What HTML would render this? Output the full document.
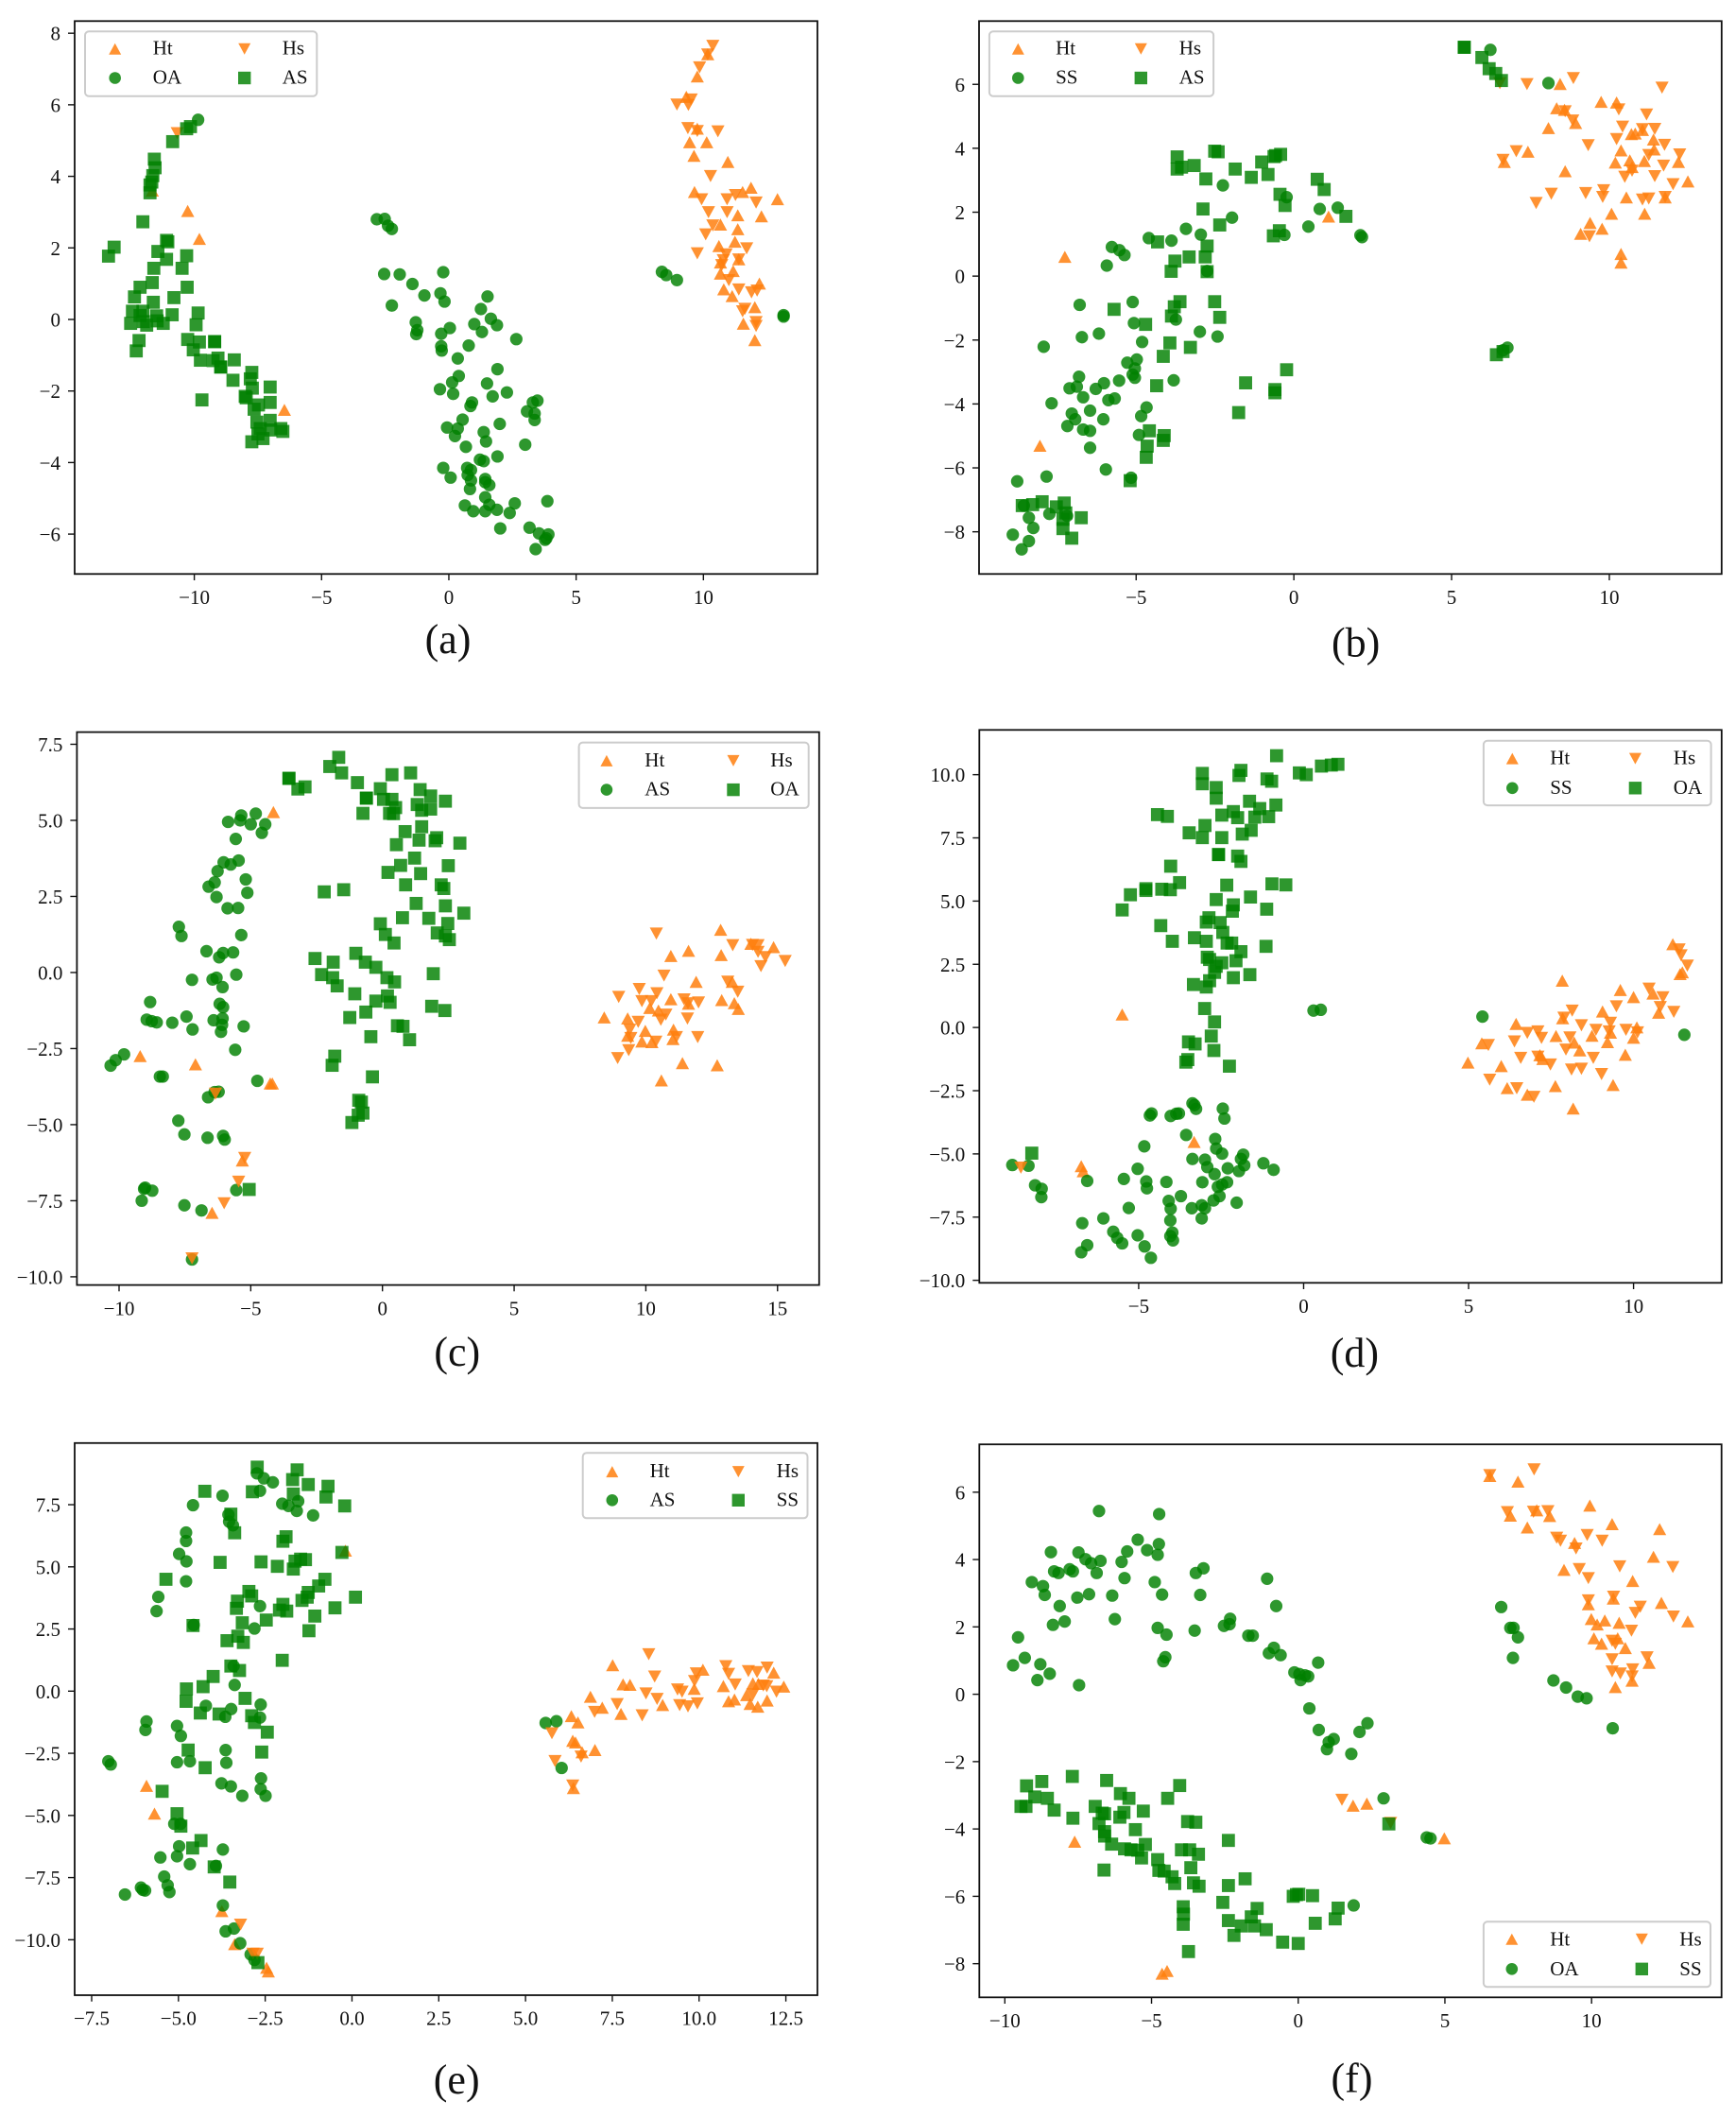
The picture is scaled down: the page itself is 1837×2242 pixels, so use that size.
<!DOCTYPE html>
<html lang="en">
<head>
<meta charset="utf-8">
<title>t-SNE scatter panels</title>
<style>
html,body{margin:0;padding:0;background:#fff;}
svg{display:block;font-family:"Liberation Serif",serif;}
.lg{font-size:21px;fill:#111;}
.cap{font-size:44px;fill:#111;text-anchor:middle;}
.frame{fill:#fff;fill-opacity:.8;stroke:#ccc;stroke-width:2;}
.o{fill:#ff7f0e;fill-opacity:.85;}
.g{fill:#008000;fill-opacity:.82;}
</style>
</head>
<body>
<svg id="fig" xmlns="http://www.w3.org/2000/svg" width="1837" height="2242" viewBox="0 0 1837 2242">
<g id="plots"></g>

<g>
<rect class="frame" x="90" y="33.3" width="245.3" height="68.4" rx="4"/>
<path class="o" transform="translate(121.7,51.7)" d="M-6.5,6L6.5,6L0,-6Z"/>
<text class="lg" x="161.7" y="57.5">Ht</text>
<path class="o" transform="translate(258.7,51.7)" d="M-6.5,-6L6.5,-6L0,6Z"/>
<text class="lg" x="298.7" y="57.5">Hs</text>
<circle class="g" cx="121.7" cy="82.5" r="6.3"/>
<text class="lg" x="161.7" y="88.5">OA</text>
<rect class="g" x="252" y="75.8" width="13.4" height="13.4"/>
<text class="lg" x="298.7" y="88.5">AS</text>
</g>
<text class="cap" x="474" y="691">(a)</text>

<g>
<rect class="frame" x="1046.9" y="33.3" width="237.2" height="68.4" rx="4"/>
<path class="o" transform="translate(1077.3,51.7)" d="M-6.5,6L6.5,6L0,-6Z"/>
<text class="lg" x="1117.1" y="57.5">Ht</text>
<path class="o" transform="translate(1207.3,51.7)" d="M-6.5,-6L6.5,-6L0,6Z"/>
<text class="lg" x="1247.7" y="57.5">Hs</text>
<circle class="g" cx="1077.3" cy="82.5" r="6.3"/>
<text class="lg" x="1117.1" y="88.5">SS</text>
<rect class="g" x="1200.6" y="75.8" width="13.4" height="13.4"/>
<text class="lg" x="1247.7" y="88.5">AS</text>
</g>
<text class="cap" x="1434.6" y="694.6">(b)</text>

<g>
<rect class="frame" x="612.6" y="785.6" width="243.1" height="69.3" rx="4"/>
<path class="o" transform="translate(641.9,804.9)" d="M-6.5,6L6.5,6L0,-6Z"/>
<text class="lg" x="682.3" y="810.9">Ht</text>
<path class="o" transform="translate(776,804.9)" d="M-6.5,-6L6.5,-6L0,6Z"/>
<text class="lg" x="815.3" y="810.9">Hs</text>
<circle class="g" cx="641.9" cy="835.6" r="6.3"/>
<text class="lg" x="682.3" y="841.6">AS</text>
<rect class="g" x="769.3" y="828.9" width="13.4" height="13.4"/>
<text class="lg" x="815.3" y="841.6">OA</text>
</g>
<text class="cap" x="483.8" y="1445">(c)</text>

<g>
<rect class="frame" x="1569.9" y="783.8" width="240.7" height="68.3" rx="4"/>
<path class="o" transform="translate(1600.3,802.6)" d="M-6.5,6L6.5,6L0,-6Z"/>
<text class="lg" x="1640.2" y="808.6">Ht</text>
<path class="o" transform="translate(1730.4,802.6)" d="M-6.5,-6L6.5,-6L0,6Z"/>
<text class="lg" x="1770.8" y="808.6">Hs</text>
<circle class="g" cx="1600.3" cy="833.8" r="6.3"/>
<text class="lg" x="1640.2" y="839.8">SS</text>
<rect class="g" x="1723.7" y="827.1" width="13.4" height="13.4"/>
<text class="lg" x="1770.8" y="839.8">OA</text>
</g>
<text class="cap" x="1433.4" y="1446">(d)</text>

<g>
<rect class="frame" x="616.7" y="1537.2" width="237.8" height="69.1" rx="4"/>
<path class="o" transform="translate(647.8,1557.1)" d="M-6.5,6L6.5,6L0,-6Z"/>
<text class="lg" x="687.6" y="1563">Ht</text>
<path class="o" transform="translate(781.3,1557.1)" d="M-6.5,-6L6.5,-6L0,6Z"/>
<text class="lg" x="821.7" y="1563">Hs</text>
<circle class="g" cx="647.8" cy="1587.3" r="6.3"/>
<text class="lg" x="687.6" y="1593.3">AS</text>
<rect class="g" x="774.6" y="1580.6" width="13.4" height="13.4"/>
<text class="lg" x="821.7" y="1593.3">SS</text>
</g>
<text class="cap" x="483.2" y="2215">(e)</text>

<g>
<rect class="frame" x="1569.9" y="2033.3" width="240.1" height="69" rx="4"/>
<path class="o" transform="translate(1599.8,2051.7)" d="M-6.5,6L6.5,6L0,-6Z"/>
<text class="lg" x="1640.2" y="2058.3">Ht</text>
<path class="o" transform="translate(1737.3,2051.7)" d="M-6.5,-6L6.5,-6L0,6Z"/>
<text class="lg" x="1777.3" y="2058.3">Hs</text>
<circle class="g" cx="1599.8" cy="2083.3" r="6.3"/>
<text class="lg" x="1640.2" y="2090">OA</text>
<rect class="g" x="1730.6" y="2076.6" width="13.4" height="13.4"/>
<text class="lg" x="1777.3" y="2090">SS</text>
</g>
<text class="cap" x="1430.5" y="2213.5">(f)</text>
</svg>

<script>
// ---------- panel (a) ----------
const aXTicks = [-10,-5,0,5,10];
const aYTicks = [-6,-4,-2,0,2,4,6,8];
const aHt = [[10.17,7.41],[9.76,6.79],[9.33,6.22],[9.76,5.33],[9.46,4.95],[10.13,4.95],[9.63,4.57],[10.96,4.4],[9.65,3.56],[11.87,3.68],[11.54,3.56],[12.91,3.36],[11.35,2.91],[12.28,2.88],[10.67,2.65],[11.35,2.52],[11.24,2.17],[10.61,2.05],[11.39,1.68],[10.67,1.59],[11.17,1.35],[10.67,1.28],[12.2,1.0],[10.8,0.84],[11.13,0.65],[12.02,0.34],[11.57,-0.12],[12.02,-0.58],[-6.46,-2.53],[-10.26,3.03],[-9.8,2.25],[-11.65,3.6]];
const aOA = [[-2.83,2.8],[-2.52,2.81],[-2.39,2.62],[-2.24,2.53],[-2.54,1.27],[-1.93,1.26],[-0.22,1.32],[-1.43,0.99],[-0.96,0.67],[-0.33,0.73],[-0.17,0.5],[-2.24,0.39],[1.52,0.64],[1.26,0.29],[1.65,0.02],[1.0,-0.13],[1.89,-0.16],[1.3,-0.35],[-1.3,-0.08],[-1.24,-0.3],[-1.28,-0.41],[0.04,-0.24],[-0.3,-0.4],[2.65,-0.55],[0.78,-0.73],[-0.3,-0.75],[-0.28,-0.87],[0.35,-1.09],[1.91,-1.39],[0.39,-1.58],[0.13,-1.76],[1.5,-1.79],[-0.35,-1.95],[0.17,-2.08],[1.72,-2.15],[2.28,-2.04],[0.91,-2.32],[0.85,-2.42],[3.48,-2.27],[3.3,-2.32],[3.07,-2.57],[3.37,-2.63],[3.37,-2.81],[2.0,-2.92],[0.54,-2.8],[-0.07,-3.02],[0.35,-3.05],[0.24,-3.26],[1.37,-3.15],[1.46,-3.41],[3.0,-3.5],[0.67,-3.56],[1.22,-3.92],[1.37,-3.96],[1.91,-3.83],[-0.22,-4.15],[0.07,-4.42],[0.72,-4.15],[0.87,-4.21],[0.74,-4.35],[0.87,-4.5],[1.43,-4.46],[1.43,-4.55],[1.59,-4.63],[0.83,-4.74],[1.43,-4.97],[1.59,-5.18],[2.59,-5.14],[3.87,-5.08],[0.63,-5.2],[0.96,-5.36],[1.43,-5.36],[1.89,-5.32],[2.39,-5.41],[2.02,-5.84],[3.17,-5.82],[3.54,-5.98],[3.91,-6.01],[3.83,-6.12],[3.78,-6.16],[3.41,-6.42],[8.37,1.33],[8.54,1.24],[8.96,1.1],[13.15,0.08],[13.15,0.12],[-9.85,5.58]];
const aHs = [[10.37,7.65],[10.17,7.41],[9.85,7.05],[8.96,6.01],[9.41,6.0],[9.52,6.15],[9.39,5.35],[10.57,5.26],[9.76,5.27],[10.28,4.01],[9.93,3.36],[10.93,3.36],[11.26,3.48],[12.07,3.27],[10.2,3.0],[10.93,3.0],[10.37,2.63],[10.09,2.38],[11.7,1.99],[9.76,1.85],[10.89,1.82],[10.78,1.66],[11.39,1.68],[10.72,1.52],[11.0,1.1],[11.39,0.84],[11.89,0.76],[12.11,0.81],[11.63,0.3],[11.54,0.23],[12.07,-0.07],[12.07,-0.18],[-10.67,5.21]];
const aAS = [[-13.37,1.77],[-13.15,2.02],[-12.02,2.73],[-11.09,2.21],[-11.04,2.17],[-11.43,1.9],[-11.09,1.68],[-10.3,1.78],[-11.59,1.43],[-10.48,1.43],[-11.65,1.03],[-12.13,0.9],[-10.28,0.9],[-12.35,0.63],[-10.8,0.61],[-11.61,0.48],[-12.43,0.23],[-12.02,0.23],[-12.13,0.11],[-11.48,0.1],[-10.87,0.13],[-9.85,0.18],[-12.5,-0.11],[-11.87,-0.16],[-12.0,-0.06],[-11.46,-0.04],[-11.22,-0.11],[-9.93,-0.15],[-12.17,-0.59],[-12.28,-0.88],[-10.26,-0.56],[-9.8,-0.63],[-9.2,-0.62],[-9.2,-0.62],[-10.04,-0.85],[-9.76,-1.14],[-9.26,-1.15],[-9.07,-1.08],[-8.96,-1.33],[-8.96,-1.33],[-8.43,-1.13],[-8.48,-1.7],[-7.74,-1.48],[-7.8,-1.66],[-7.72,-1.92],[-7.02,-1.89],[-8.0,-2.15],[-7.96,-2.19],[-9.7,-2.25],[-7.48,-2.39],[-7.02,-2.32],[-7.65,-2.51],[-7.54,-2.87],[-7.02,-2.82],[-7.41,-3.05],[-6.6,-3.05],[-6.52,-3.13],[-7,-3.09],[-7.5,-3.2],[-7.3,-3.33],[-7.74,-3.42],[-10.85,4.97],[-10.3,5.33],[-10.15,5.39],[-11.57,4.48],[-11.54,4.24],[-11.63,4.02],[-11.67,3.84],[-11.74,3.76],[-11.74,3.54]];

// ---------- panel (b) ----------
const bXTicks = [-5,0,5,10];
const bYTicks = [-8,-6,-4,-2,0,2,4,6];
const bHt = [[-7.26,0.6],[1.1,1.86],[-8.05,-5.31],[8.44,6.01],[8.33,5.25],[8.58,5.2],[9.74,5.45],[10.23,5.43],[8.07,4.63],[8.93,4.79],[10.7,4.44],[10.82,4.46],[11.05,4.57],[11.4,4.27],[10.37,3.93],[11.42,3.96],[7.42,3.89],[6.67,3.57],[10.19,3.55],[10.65,3.62],[11.11,3.6],[12.19,3.57],[8.6,3.28],[10.72,3.41],[12.49,2.96],[10.54,2.46],[11.77,2.46],[10.07,1.95],[11.12,1.95],[9.39,1.66],[9.77,1.48],[9.09,1.32],[10.37,0.69],[10.37,0.42]];
const bSS = [[6.23,7.08],[8.07,6.04],[-2.25,2.84],[-0.23,2.47],[-1.96,1.83],[0.82,2.1],[1.39,2.14],[0.46,1.55],[-0.3,1.29],[2.11,1.28],[2.16,1.22],[-3.42,1.48],[-2.95,1.3],[-4.6,1.19],[-3.88,1.11],[-5.77,0.91],[-5.53,0.81],[-5.37,0.66],[-5.93,0.33],[-2.75,0.16],[-6.79,-0.9],[-5.11,-0.81],[-5.07,-1.47],[-3.74,-1.36],[-2.98,-1.74],[-2.42,-1.89],[-6.18,-1.8],[-6.72,-1.91],[-7.93,-2.21],[-4.81,-2.06],[-4.98,-2.61],[-5.28,-2.71],[-5.04,-2.89],[-5.11,-3.08],[-5.04,-3.18],[-6.81,-3.15],[-5.54,-3.27],[-3.81,-3.26],[-6.02,-3.35],[-6.28,-3.53],[-6.88,-3.46],[-7.11,-3.51],[-6.68,-3.79],[-5.68,-3.83],[-5.88,-3.88],[-7.68,-3.98],[-4.67,-4.11],[-6.46,-4.21],[-4.84,-4.38],[-7.04,-4.3],[-6.04,-4.48],[-6.93,-4.48],[-7.18,-4.69],[-6.68,-4.8],[-6.46,-4.84],[-4.91,-4.97],[-6.46,-5.37],[-5.96,-6.05],[-5.16,-6.31],[-7.84,-6.27],[-8.77,-6.42],[-8.56,-7.18],[-7.75,-7.44],[-8.4,-7.56],[-7.19,-7.5],[-8.26,-7.88],[-8.91,-8.09],[-8.4,-8.29],[-8.63,-8.55],[6.77,-2.24],[6.63,-2.32]];
const bHs = [[6.63,3.64],[7.05,3.91],[7.39,6.01],[8.86,6.2],[11.67,5.9],[10.3,5.22],[8.6,5.16],[8.84,4.87],[11.18,5.06],[10.42,4.68],[10.23,4.29],[11.05,4.6],[11.44,4.61],[9.33,4.1],[11.75,4.11],[11.25,3.79],[12.23,3.81],[11.72,3.46],[10.72,3.3],[10.49,3.11],[11.44,3.13],[12.02,2.88],[8.16,2.58],[9.25,2.6],[9.82,2.69],[9.79,2.48],[7.68,2.29],[11.05,2.4],[11.25,2.43],[11.77,2.48],[9.37,1.25],[6.53,6.04]];
const bAS = [[5.4,7.16],[5.4,7.16],[5.96,6.84],[6.19,6.49],[6.4,6.34],[6.58,6.12],[-3.7,3.73],[-3.7,3.35],[-3.56,3.41],[-3.16,3.46],[-2.51,3.91],[-2.4,3.89],[-2.79,3.04],[-1.86,3.35],[-1.35,3.09],[-1.02,3.57],[-0.82,3.18],[-0.63,3.74],[-0.58,3.77],[-0.42,3.81],[-0.44,2.56],[-0.28,2.21],[0.74,3.03],[0.96,2.71],[1.65,1.87],[-2.88,2.1],[-2.35,1.6],[-0.46,1.42],[-0.65,1.26],[-4.32,1.07],[-2.75,0.94],[-2.81,0.6],[-3.32,0.6],[-3.77,0.47],[-3.89,0.15],[-2.75,0.14],[-3.61,-0.8],[-2.51,-0.8],[-3.79,-0.96],[-5.7,-1.04],[-2.35,-1.29],[-3.88,-1.25],[-4.7,-1.51],[-3.93,-2.09],[-3.28,-2.23],[-4.14,-2.51],[-4.35,-3.43],[-1.53,-3.34],[-0.23,-2.93],[-0.6,-3.55],[-0.6,-3.65],[-1.75,-4.27],[-4.58,-4.84],[-4.11,-4.99],[-4.14,-5.14],[-4.65,-5.32],[-4.68,-5.67],[-5.19,-6.4],[6.42,-2.46],[6.63,-2.36],[-8.61,-7.18],[-8.28,-7.15],[-7.98,-7.06],[-7.53,-7.22],[-7.28,-7.1],[-7.23,-7.41],[-7.32,-7.61],[-7.32,-7.9],[-7.04,-8.2],[-6.74,-7.56]];

// ---------- panel (c) ----------
const cXTicks = [-10,-5,0,5,10,15];
const cYTicks = [-10,-7.5,-5,-2.5,0,2.5,5,7.5];
const cHt = [[-4.14,5.27],[-9.2,-2.75],[-7.1,-3.02],[-4.26,-3.65],[-4.18,-3.65],[-5.32,-6.18],[-6.47,-7.9],[8.42,-1.48],[9.31,-1.51],[9.31,-2.08],[9.98,-1.92],[9.85,-2.27],[10.23,-2.29],[11.05,-1.88],[11.03,-2.19],[11.39,-2.98],[12.71,-3.05],[10.59,-3.55],[10.95,0.54],[11.62,0.71],[12.84,1.4],[12.86,0.57],[11.91,-0.31],[13.28,-0.31],[10.95,-0.88],[12.88,-0.91],[13.36,-1.01],[13.51,-1.2],[10.15,-1.17],[10.48,-1.25],[11.62,-1.03],[13.99,0.94],[14.85,0.83]];
const cAS = [[-4.81,5.22],[-5.36,5.16],[-5.4,5.0],[-5.86,4.95],[-5.0,4.87],[-4.45,4.87],[-4.58,4.59],[-5.57,4.39],[-5.46,3.68],[-6.03,3.62],[-5.76,3.55],[-6.26,3.33],[-5.19,3.06],[-6.37,2.96],[-6.6,2.82],[-5.13,2.62],[-6.3,2.48],[-5.88,2.11],[-5.48,2.12],[-7.73,1.5],[-7.63,1.2],[-5.36,1.23],[-6.68,0.7],[-5.67,0.66],[-6.05,0.64],[-6.2,0.5],[-5.55,-0.07],[-7.23,-0.24],[-6.3,-0.17],[-6.45,-0.23],[-6.07,-0.48],[-8.82,-0.97],[-6.18,-1.03],[-6.05,-1.14],[-7.44,-1.45],[-8.95,-1.55],[-8.76,-1.6],[-8.57,-1.64],[-7.98,-1.65],[-6.41,-1.57],[-6.07,-1.51],[-6.09,-1.72],[-5.27,-1.77],[-7.21,-1.87],[-6.13,-1.95],[-5.59,-2.54],[-9.81,-2.69],[-10.13,-2.88],[-10.32,-3.06],[-8.45,-3.42],[-8.34,-3.42],[-4.75,-3.56],[-6.37,-3.93],[-6.22,-3.92],[-6.62,-4.1],[-7.75,-4.87],[-7.52,-5.32],[-6.64,-5.43],[-6.05,-5.37],[-5.99,-5.49],[-9.01,-7.07],[-9.05,-7.11],[-8.74,-7.17],[-9.14,-7.5],[-7.52,-7.65],[-6.87,-7.82],[-5.55,-7.15],[-7.23,-9.43]];
const cHs = [[10.4,1.28],[13.3,0.9],[14.26,0.9],[14.05,0.91],[14.26,0.68],[14.54,0.51],[14.37,0.21],[15.29,0.38],[10.69,-0.1],[13.11,-0.3],[13.49,-0.63],[9.75,-0.54],[10.42,-0.68],[8.97,-0.8],[9.85,-0.94],[10.21,-0.94],[11.45,-0.88],[11.6,-1.01],[12.0,-0.98],[10.76,-1.38],[10.57,-1.55],[11.58,-1.51],[9.71,-1.62],[9.39,-1.88],[9.43,-2.15],[10.38,-2.27],[11.16,-2.12],[11.97,-2.12],[9.35,-2.55],[8.93,-2.81],[-6.34,-3.98],[-5.23,-6.09],[-5.46,-6.87],[-6.01,-7.58],[-7.23,-9.39]];
const cOA = [[-1.66,7.07],[-2.0,6.77],[-1.55,6.56],[-0.95,6.24],[-3.55,6.38],[-3.55,6.38],[-3.21,6.03],[-2.94,6.1],[0.36,6.5],[1.07,6.56],[-0.08,6.04],[1.43,6.01],[-0.61,5.73],[-0.61,5.73],[0.04,5.69],[0.36,5.69],[1.83,5.8],[2.39,5.63],[0.5,5.42],[-0.74,5.23],[0.27,5.23],[0.42,5.22],[1.32,5.52],[1.49,5.33],[1.83,5.37],[1.49,4.79],[0.86,4.63],[2.06,4.43],[2.0,4.33],[1.39,4.35],[0.53,4.2],[2.94,4.25],[1.22,3.76],[0.69,3.52],[2.5,3.51],[0.21,3.29],[1.45,3.25],[0.88,2.88],[2.23,2.88],[2.33,2.76],[-2.21,2.65],[-1.47,2.72],[1.28,2.27],[2.39,2.19],[3.09,1.95],[0.76,1.8],[1.76,1.78],[-0.08,1.6],[2.48,1.61],[0.11,1.25],[2.08,1.3],[2.39,1.2],[2.54,1.08],[0.44,0.97],[-1.01,0.63],[-2.56,0.46],[-1.87,0.34],[-0.65,0.34],[-0.25,0.17],[-2.31,-0.07],[-1.89,-0.17],[0.17,-0.17],[1.93,-0.04],[0.46,-0.31],[-1.72,-0.44],[-1.05,-0.7],[0.19,-0.77],[-0.25,-0.94],[0.29,-0.98],[1.87,-1.11],[2.37,-1.25],[-0.63,-1.3],[-1.24,-1.48],[0.57,-1.75],[0.78,-1.77],[-0.44,-2.11],[1.03,-2.21],[-1.81,-2.75],[-1.91,-3.05],[-0.38,-3.43],[-0.9,-4.2],[-0.8,-4.26],[-0.74,-4.62],[-0.92,-4.69],[-1.16,-4.93],[-5.06,-7.13]];

// ---------- panel (d) ----------
const dXTicks = [-5,0,5,10];
const dYTicks = [-10,-7.5,-5,-2.5,0,2.5,5,7.5,10];
const dHt = [[-5.5,0.51],[-3.32,-4.53],[-6.74,-5.49],[-6.68,-5.69],[4.98,-1.39],[5.4,-0.63],[5.99,-1.53],[6.44,0.14],[6.17,-2.4],[6.78,-2.66],[7.63,-2.32],[7.16,-1.1],[7.25,-1.25],[7.65,-0.34],[7.84,1.85],[7.85,0.36],[8.2,-0.6],[8.37,-0.91],[8.17,-3.21],[8.74,-0.33],[9.06,0.63],[9.21,-0.58],[9.3,-0.21],[9.38,-2.28],[9.6,1.48],[10.0,1.2],[9.75,-1.08],[10.0,-0.41],[10.1,0],[10.59,1.34],[10.76,0.58],[11.19,3.29],[11.48,2.18],[11.41,2.11]];
const dSS = [[0.52,0.7],[0.3,0.67],[5.42,0.43],[11.54,-0.29],[-3.37,-3.0],[-3.31,-3.07],[-3.26,-3.22],[-2.45,-3.21],[-2.4,-3.6],[-3.86,-3.41],[-3.78,-3.4],[-4.03,-3.5],[-4.61,-3.4],[-4.66,-3.48],[-3.56,-4.25],[-2.68,-4.41],[-2.65,-4.79],[-2.47,-4.99],[-4.83,-4.7],[-1.83,-5.03],[-1.9,-5.2],[-3.37,-5.2],[-2.99,-5.23],[-1.22,-5.37],[-1.8,-5.45],[-0.91,-5.63],[-2.92,-5.52],[-2.3,-5.57],[-1.96,-5.68],[-5.03,-5.59],[-2.7,-5.8],[-5.45,-5.99],[-4.16,-6.11],[-4.77,-6.09],[-4.75,-6.36],[-3.07,-6.12],[-2.32,-6.12],[-2.47,-6.21],[-2.6,-6.3],[-6.56,-6.07],[-8.14,-6.24],[-7.94,-6.38],[-7.95,-6.71],[-8.83,-5.44],[-8.34,-5.47],[-3.72,-6.67],[-2.55,-6.67],[-4.09,-6.86],[-2.73,-6.84],[-2.03,-6.93],[-4.03,-7.17],[-3.39,-7.15],[-3.09,-7.03],[-2.99,-7.15],[-5.3,-7.14],[-6.07,-7.55],[-4.04,-7.63],[-3.09,-7.55],[-6.71,-7.74],[-5.77,-8.08],[-5.65,-8.32],[-5.5,-8.54],[-3.98,-8.11],[-4.04,-8.25],[-5.03,-8.22],[-3.96,-8.42],[-4.82,-8.66],[-6.56,-8.61],[-6.74,-8.89],[-4.63,-9.11]];
const dHs = [[-8.57,-5.54],[5.6,-0.69],[5.64,-2.06],[6.39,-0.55],[6.58,-1.2],[6.46,-2.4],[6.78,-0.21],[6.98,-2.74],[7.1,-0.15],[7.1,-1.15],[7.21,-0.41],[7.48,-1.46],[7.89,0.39],[8.07,-0.39],[7.95,-0.87],[8.14,0.67],[8.12,-1.66],[8.42,0.09],[8.42,-1.63],[8.86,-0.09],[8.78,-1.2],[9.03,-1.84],[9.3,0.19],[9.26,-0.15],[9.48,0.84],[9.77,-0.09],[10.12,-0.19],[10.47,1.54],[10.89,1.2],[10.81,0.81],[11.22,0.62],[11.38,3.09],[11.44,2.86],[11.63,2.45]];
const dOA = [[-0.82,10.75],[-3.07,10.05],[-3.07,9.64],[-1.9,10.17],[-1.96,9.97],[-1.11,9.83],[-0.97,9.74],[-0.13,10.07],[0.08,10.0],[0.54,10.34],[0.84,10.38],[1.04,10.41],[-2.65,9.49],[-2.65,9.07],[-1.64,8.95],[-0.84,8.8],[-1.33,8.66],[-4.43,8.42],[-4.13,8.35],[-2.48,8.4],[-2.13,8.54],[-2.0,8.3],[-1.48,8.32],[-1.06,8.34],[-2.99,7.99],[-3.47,7.7],[-3.07,7.51],[-2.48,7.51],[-1.86,7.65],[-1.59,7.8],[-2.58,6.84],[-2.58,6.84],[-2.0,6.78],[-1.9,6.57],[-4.03,6.38],[-3.76,5.73],[-4.78,5.49],[-4.78,5.42],[-4.3,5.47],[-4.04,5.45],[-5.25,5.25],[-5.5,4.65],[-2.33,5.63],[-0.96,5.68],[-0.54,5.64],[-2.65,5.06],[-2.13,4.85],[-2.16,4.6],[-1.61,5.16],[-1.12,4.68],[-2.87,4.34],[-2.95,4.17],[-2.53,4.15],[-4.33,4.03],[-2.45,3.76],[-3.31,3.55],[-3.98,3.41],[-2.95,3.41],[-2.32,3.34],[-2.18,3.34],[-1.14,3.21],[-1.9,3.0],[-2.92,2.78],[-2.85,2.69],[-2.48,2.56],[-2.05,2.64],[-2.65,2.42],[-2.7,2.18],[-2.13,1.97],[-1.63,2.09],[-2.85,1.85],[-3.34,1.7],[-2.95,1.6],[-3.0,0.75],[-2.7,0.22],[-2.8,-0.34],[-3.49,-0.57],[-3.29,-0.65],[-2.72,-0.91],[-3.51,-1.27],[-3.57,-1.37],[-2.25,-1.53],[-8.24,-4.97]];

// ---------- panel (e) ----------
const eXTicks = [-7.5,-5,-2.5,0,2.5,5,7.5,10,12.5];
const eYTicks = [-10,-7.5,-5,-2.5,0,2.5,5,7.5];
const eHt = [[-0.19,5.65],[-5.92,-3.81],[-5.69,-4.93],[-3.75,-8.85],[-3.38,-10.18],[-2.46,-11.13],[-2.41,-11.28],[7.51,1.04],[6.32,-1.01],[6.51,-1.26],[6.36,-2.0],[6.44,-2.07],[6.63,-2.46],[7.0,-2.37],[6.38,-3.9],[6.87,-0.23],[7.21,-0.67],[7.75,-0.92],[7.81,0.27],[8.01,0.25],[8.95,-0.56],[9.86,0.09],[10.11,0.86],[10.7,0.2],[10.85,-0.41],[11.02,-0.34],[11.37,-0.16],[11.47,-0.52],[11.55,0.31],[11.69,-0.63],[11.71,0.29],[12.15,0.74],[12.44,0.18],[11.96,-0.38]];
const eAS = [[-2.74,8.76],[-2.54,8.56],[-2.28,8.4],[-2.65,8.06],[-3.73,7.86],[-4.58,7.48],[-2.01,7.54],[-1.83,7.45],[-1.55,7.64],[-1.59,7.25],[-1.12,7.07],[-3.56,7.1],[-3.54,6.82],[-3.43,6.67],[-4.78,6.38],[-4.78,6.04],[-4.98,5.52],[-4.77,5.22],[-4.78,4.42],[-5.58,3.79],[-5.63,3.22],[-2.65,3.42],[-4.56,2.66],[-2.81,2.52],[-3.41,1.01],[-3.38,0.25],[-2.63,-0.54],[-4.21,-0.59],[-3.48,-0.72],[-3.65,-1.03],[-2.65,-1.06],[-5.92,-1.22],[-5.95,-1.56],[-5.04,-1.4],[-4.93,-1.8],[-3.64,-2.37],[-7.02,-2.82],[-6.95,-2.95],[-5.04,-2.86],[-4.67,-2.82],[-3.62,-2.88],[-2.62,-3.51],[-3.76,-3.71],[-3.49,-3.83],[-2.63,-3.94],[-3.16,-4.21],[-2.49,-4.21],[-5.12,-5.34],[-4.94,-5.34],[-4.98,-6.24],[-3.72,-6.37],[-5.52,-6.69],[-5.04,-6.64],[-4.67,-6.96],[-3.92,-7.03],[-5.41,-7.46],[-5.31,-7.81],[-6.08,-7.9],[-6.03,-7.99],[-5.96,-8.02],[-5.26,-8.08],[-6.54,-8.18],[-3.72,-8.62],[-3.64,-9.66],[-3.4,-9.55],[-3.22,-10.14],[-2.92,-10.59],[-2.81,-10.81],[5.58,-1.28],[5.89,-1.21],[6.04,-3.09]];
const eHs = [[-3.21,-9.39],[-2.73,-10.56],[-2.85,-10.56],[5.76,-1.69],[5.85,-2.81],[6.36,-3.79],[6.6,-2.63],[6.99,-0.83],[7.64,-0.52],[8.36,-0.97],[8.47,-0.09],[8.55,1.49],[8.72,0.59],[8.79,-0.31],[9.38,0.07],[9.51,-0.02],[9.44,-0.56],[9.68,-0.61],[9.95,-0.49],[9.87,0.41],[9.92,0.72],[10.77,1.01],[10.85,0.7],[11.04,0.27],[11.42,0.81],[11.67,0.77],[11.55,-0.13],[11.85,0.23],[11.95,0.2],[11.96,0.95],[12.23,-0.02]];
const eSS = [[-2.73,9.01],[-1.58,8.9],[-1.71,8.51],[-1.26,8.31],[-0.69,8.24],[-4.24,8.04],[-2.87,8.02],[-1.69,7.93],[-0.75,7.81],[-0.21,7.45],[-3.49,7.12],[-3.38,6.37],[-1.9,6.21],[-1.99,6.03],[-0.29,5.58],[-3.8,5.18],[-2.62,5.2],[-2.15,5.02],[-1.69,4.91],[-1.64,5.23],[-1.48,5.31],[-1.34,5.29],[-5.36,4.5],[-0.78,4.5],[-0.96,4.23],[-1.26,3.97],[-2.97,4.01],[-2.89,3.83],[-1.29,3.78],[-1.44,3.65],[0.1,3.78],[-3.3,3.62],[-3.33,3.33],[-1.99,3.49],[-2.09,3.26],[-1.88,3.22],[-0.49,3.35],[-1.07,3.02],[-2.47,2.86],[-3.16,2.75],[-4.58,2.64],[-1.24,2.43],[-3.29,2.21],[-3.6,2.03],[-3.13,1.96],[-2.01,1.24],[-3.49,1.01],[-3.24,0.83],[-4.0,0.59],[-4.29,0.18],[-4.77,0.09],[-4.78,-0.41],[-3.08,-0.29],[-4.37,-0.88],[-3.83,-0.92],[-2.89,-0.99],[-2.81,-1.26],[-2.44,-1.65],[-4.72,-2.37],[-2.6,-2.45],[-4.23,-3.08],[-5.47,-4.03],[-5.04,-4.93],[-4.93,-5.43],[-4.35,-6.01],[-4.59,-6.31],[-3.97,-7.07],[-3.52,-7.68],[-2.71,-10.92]];

// ---------- panel (f) ----------
const fXTicks = [-10,-5,0,5,10];
const fYTicks = [-8,-6,-4,-2,0,2,4,6];
const fHt = [[6.53,6.48],[7.49,6.31],[9.94,5.6],[7.23,5.3],[8.13,5.46],[8.57,5.29],[7.81,4.95],[10.7,5.05],[12.32,4.9],[9.42,4.49],[12.11,4.08],[9.06,3.69],[11.4,3.36],[9.89,2.67],[10.74,2.84],[12.38,2.71],[13.28,2.16],[9.99,2.23],[10.45,2.19],[10.19,2.07],[10.94,2.12],[10.08,1.66],[10.89,1.66],[10.34,1.5],[11.15,1.37],[11.96,0.93],[11.38,0.4],[10.81,0.21],[1.87,-3.31],[2.34,-3.25],[4.98,-4.28],[-7.62,-4.38],[-4.47,-8.22],[-4.64,-8.3]];
const fOA = [[-6.79,5.44],[-4.74,5.35],[-5.47,4.59],[-5.15,4.28],[-4.75,4.46],[-4.79,4.14],[-5.83,4.24],[-8.43,4.22],[-7.49,4.21],[-7.25,4.01],[-7.06,3.89],[-6.74,3.96],[-6.02,3.93],[-8.32,3.65],[-8.17,3.6],[-7.79,3.71],[-7.68,3.65],[-6.87,3.6],[-5.92,3.45],[-3.49,3.6],[-3.23,3.74],[-1.06,3.43],[-9.08,3.33],[-8.7,3.21],[-4.89,3.33],[-8.64,2.95],[-7.53,2.87],[-7.13,2.97],[-6.34,2.93],[-4.64,2.96],[-3.34,2.95],[-0.75,2.62],[-8.13,2.62],[-7.96,2.16],[-8.36,2.06],[-6.25,2.23],[-2.32,2.24],[-2.34,2.08],[-2.53,2.03],[-4.79,1.97],[-3.53,1.89],[-4.49,1.77],[-1.7,1.74],[-1.55,1.74],[-9.55,1.69],[-0.83,1.38],[-1.0,1.22],[-0.6,1.16],[-9.32,1.08],[-4.53,1.1],[-4.6,0.98],[0.68,0.94],[-8.79,0.89],[-9.72,0.86],[-0.13,0.65],[0.04,0.6],[0.08,0.42],[0.23,0.56],[0.34,0.53],[-8.47,0.61],[-8.89,0.42],[-7.47,0.27],[0.38,-0.42],[0.7,-1.06],[2.36,-0.86],[2.09,-1.12],[1.21,-1.33],[1.04,-1.42],[0.98,-1.63],[1.81,-1.77],[2.91,-3.09],[4.38,-4.25],[4.51,-4.28],[1.89,-6.27],[6.92,2.59],[7.23,1.97],[7.34,1.97],[7.49,1.69],[7.32,1.08],[8.7,0.41],[9.13,0.2],[9.53,-0.07],[9.83,-0.12],[10.72,-1.01]];
const fHs = [[6.53,6.51],[8.04,6.68],[7.13,5.41],[8.02,5.42],[8.51,5.44],[8.81,4.65],[8.94,4.56],[9.47,4.33],[9.85,4.73],[10.36,4.56],[9.58,3.72],[9.89,3.45],[10.96,3.8],[12.77,3.78],[9.89,2.79],[10.75,2.9],[11.66,2.6],[11.49,2.42],[12.79,2.31],[11.36,1.89],[10.7,1.59],[10.81,1.5],[10.7,1.04],[11.89,1.1],[10.7,0.68],[10.98,0.62],[11.4,0.74],[11.38,0.53],[1.49,-3.13],[3.15,-3.82]];
const fSS = [[-7.7,-2.44],[-6.53,-2.56],[-8.74,-2.59],[-9.26,-2.72],[-4.04,-2.71],[-6.06,-2.95],[-8.98,-3.05],[-8.55,-3.09],[-5.77,-3.09],[-4.45,-3.09],[-9.45,-3.33],[-9.28,-3.33],[-8.32,-3.44],[-6.92,-3.33],[-5.28,-3.47],[-5.94,-3.51],[-6.68,-3.53],[-6.6,-3.55],[-7.68,-3.68],[-6.08,-3.65],[-6.79,-3.84],[-3.77,-3.78],[-3.49,-3.8],[-5.55,-4.02],[3.09,-3.85],[-6.6,-4.08],[-6.6,-4.21],[-2.38,-4.34],[-6.36,-4.45],[-5.21,-4.46],[-5.92,-4.59],[-5.7,-4.62],[-5.47,-4.63],[-3.98,-4.62],[-3.7,-4.62],[-3.4,-4.75],[-5.34,-4.86],[-4.79,-4.91],[-3.66,-5.15],[-6.62,-5.22],[-4.75,-5.23],[-4.57,-5.25],[-4.3,-5.42],[-4.21,-5.62],[-3.57,-5.6],[-3.38,-5.7],[-2.38,-5.68],[-1.81,-5.48],[-0.17,-6.0],[-0.06,-5.95],[0.02,-5.94],[0.49,-5.98],[-2.57,-6.18],[-3.92,-6.31],[-3.91,-6.53],[-1.4,-6.36],[1.36,-6.35],[-1.6,-6.61],[1.26,-6.67],[-2.38,-6.72],[-3.92,-6.83],[0.58,-6.8],[-1.94,-6.88],[-1.49,-6.88],[-1.09,-6.99],[-2.19,-7.16],[-0.53,-7.36],[0,-7.4],[-3.74,-7.64]];

const NS = 'http://www.w3.org/2000/svg';
const plots = document.getElementById('plots');

const panels = [
  {id:'a', box:[79,22.3,865,607.3],        xlim:[-14.7,14.48],  ylim:[-7.115,8.34], xt:aXTicks, yt:aYTicks, xd:0, yd:0, sets:[['ht',aHt,'t'],['oa',aOA,'c'],['hs',aHs,'v'],['as',aAS,'s']]},
  {id:'b', box:[1036,22.3,1821.8,607.3],   xlim:[-9.98,13.56],  ylim:[-9.32,7.98],  xt:bXTicks, yt:bYTicks, xd:0, yd:0, sets:[['ht',bHt,'t'],['ss',bSS,'c'],['hs',bHs,'v'],['as',bAS,'s']]},
  {id:'c', box:[81.4,774.6,866.8,1359.6],  xlim:[-11.6,16.58],  ylim:[-10.27,7.9],  xt:cXTicks, yt:cYTicks, xd:0, yd:1, sets:[['ht',cHt,'t'],['as',cAS,'c'],['hs',cHs,'v'],['oa',cOA,'s']]},
  {id:'d', box:[1036.3,772.3,1821.8,1357.3],xlim:[-9.83,12.67], ylim:[-10.1,11.77], xt:dXTicks, yt:dYTicks, xd:0, yd:1, sets:[['ht',dHt,'t'],['ss',dSS,'c'],['hs',dHs,'v'],['oa',dOA,'s']]},
  {id:'e', box:[79,1526.8,865,2111],       xlim:[-7.99,13.41],  ylim:[-12.23,9.98], xt:eXTicks, yt:eYTicks, xd:1, yd:1, sets:[['ht',eHt,'t'],['as',eAS,'c'],['hs',eHs,'v'],['ss',eSS,'s']]},
  {id:'f', box:[1036.3,1528.2,1821.7,2113.3],xlim:[-10.87,14.43],ylim:[-9.0,7.42],  xt:fXTicks, yt:fYTicks, xd:0, yd:0, sets:[['ht',fHt,'t'],['oa',fOA,'c'],['hs',fHs,'v'],['ss',fSS,'s']]}
];

function fmt(v, d){
  const s = Math.abs(v).toFixed(d);
  return (v < 0 ? '\u2212' : '') + s;
}

panels.forEach(function(p){
  const L = p.box[0], T = p.box[1], R = p.box[2], B = p.box[3];
  const sx = function(v){ return L + (v - p.xlim[0]) / (p.xlim[1] - p.xlim[0]) * (R - L); };
  const sy = function(v){ return B - (v - p.ylim[0]) / (p.ylim[1] - p.ylim[0]) * (B - T); };

  const g = document.createElementNS(NS, 'g');
  
  
  plots.appendChild(g);

  p.sets.forEach(function(set){
    const orange = set[2] === 't' || set[2] === 'v';
    set[1].forEach(function(pt){
      const x = sx(pt[0]), y = sy(pt[1]);
      let el;
      if (set[2] === 'c') {
        el = document.createElementNS(NS, 'circle');
        el.setAttribute('cx', x);
        el.setAttribute('cy', y);
        el.setAttribute('r', 6.6);
      } else if (set[2] === 's') {
        el = document.createElementNS(NS, 'rect');
        el.setAttribute('x', x - 6.9);
        el.setAttribute('y', y - 6.9);
        el.setAttribute('width', 13.8);
        el.setAttribute('height', 13.8);
      } else {
        el = document.createElementNS(NS, 'path');
        el.setAttribute('transform', 'translate(' + x + ',' + y + ')');
        el.setAttribute('d', set[2] === 't' ? 'M-7,6.3L7,6.3L0,-6.5Z' : 'M-7,-6.3L7,-6.3L0,6.5Z');
      }
      el.setAttribute('class', orange ? 'o' : 'g');
      
      
      g.appendChild(el);
    });
  });

  const frame = document.createElementNS(NS, 'rect');
  frame.setAttribute('x', L);
  frame.setAttribute('y', T);
  frame.setAttribute('width', R - L);
  frame.setAttribute('height', B - T);
  frame.setAttribute('fill', 'none');
  frame.setAttribute('stroke', '#111');
  frame.setAttribute('stroke-width', 1.8);
  
  
  g.appendChild(frame);

  p.xt.forEach(function(v){
    const x = sx(v);
    const tick = document.createElementNS(NS, 'line');
    tick.setAttribute('x1', x);
    tick.setAttribute('x2', x);
    tick.setAttribute('y1', B);
    tick.setAttribute('y2', B + 6.7);
    tick.setAttribute('stroke', '#111');
    tick.setAttribute('stroke-width', 1.4);
    
    
    g.appendChild(tick);
    const t = document.createElementNS(NS, 'text');
    t.setAttribute('x', x);
    t.setAttribute('y', B + 31.7);
    t.setAttribute('text-anchor', 'middle');
    t.setAttribute('font-size', 21);
    t.setAttribute('fill', '#111');
    
    
    t.textContent = fmt(v, p.xd);
    g.appendChild(t);
  });

  p.yt.forEach(function(v){
    const y = sy(v);
    const tick = document.createElementNS(NS, 'line');
    tick.setAttribute('x1', L - 7);
    tick.setAttribute('x2', L);
    tick.setAttribute('y1', y);
    tick.setAttribute('y2', y);
    tick.setAttribute('stroke', '#111');
    tick.setAttribute('stroke-width', 1.4);
    
    
    g.appendChild(tick);
    const t = document.createElementNS(NS, 'text');
    t.setAttribute('x', L - 15);
    t.setAttribute('y', y + 7.5);
    t.setAttribute('text-anchor', 'end');
    t.setAttribute('font-size', 21);
    t.setAttribute('fill', '#111');
    
    
    t.textContent = fmt(v, p.yd);
    g.appendChild(t);
  });
});
</script>
</body>
</html>
